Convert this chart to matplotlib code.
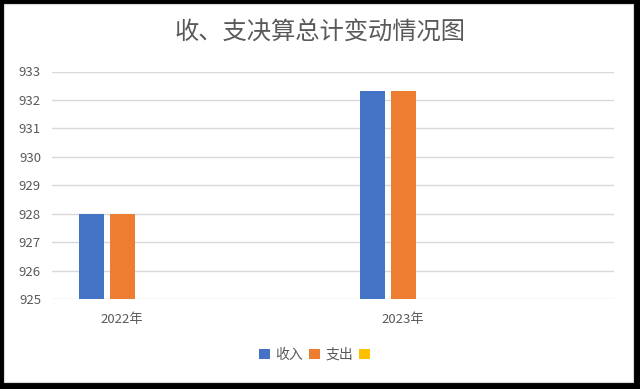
import matplotlib
matplotlib.use("Agg")
import matplotlib.pyplot as plt
from matplotlib.patches import Rectangle, Patch

plt.rcParams['font.family'] = ['Noto Sans CJK SC', 'DejaVu Sans']

title = "收、支决算总计变动情况图"
categories = ["2022年", "2023年"]
series_names = ["收入", "支出", ""]
income = [927.98, 932.30]
expense = [927.98, 932.30]
third = [0, 0]
colors = ["#4472C4", "#ED7D31", "#FFC000"]
yticks = [925, 926, 927, 928, 929, 930, 931, 932, 933]

W, H = 640, 389
fig = plt.figure(figsize=(W / 100, H / 100), dpi=100, facecolor="black")
fig.patches.append(Rectangle((4 / W, (H - 381.5) / H), (633 - 4) / W, (381.5 - 4) / H,
                             transform=fig.transFigure, facecolor="white",
                             edgecolor="#d9d9d9", linewidth=0.8, zorder=-10))

ax = fig.add_axes([52 / W, 1 - 299 / H, (614 - 52) / W, (299 - 71.5) / H])
ax.set_zorder(1)
ax.set_facecolor("none")

x = list(range(len(categories)))
width = 0.089
offset = 0.11
bars = []
for i, (vals, c) in enumerate(zip([income, expense, third], colors)):
    pos = [xi + (i - 1) * offset for xi in x]
    b = ax.bar(pos, vals, width=width, color=c, zorder=3)
    bars.append(b)

ax.set_ylim(yticks[0], yticks[-1])
ax.set_yticks(yticks)
ax.set_xlim(-0.25, 1.75)
ax.set_xticks(x)
ax.set_xticklabels(categories)
ax.grid(axis="y", color="#d9d9d9", linewidth=1.0, zorder=0)
ax.set_axisbelow(True)
for s in ax.spines.values():
    s.set_visible(False)
ax.tick_params(axis="both", length=0, labelsize=9.5, colors="#595959")
ax.tick_params(axis="y", pad=8)
ax.tick_params(axis="x", pad=10)

fig.text(320 / W, 1 - 33 / H, title, ha="center", va="center",
         fontsize=17.5, color="#595959", fontweight="light")

handles = [Patch(facecolor=c) for c in colors]
fig.legend(handles, series_names, loc="center", bbox_to_anchor=(317 / W, 1 - 355 / H),
           ncol=3, frameon=False, fontsize=10, labelcolor="#595959",
           handlelength=0.8, handleheight=0.8, handletextpad=0.4, columnspacing=0.4)

fig.savefig("out.png", dpi=100, facecolor="black")
